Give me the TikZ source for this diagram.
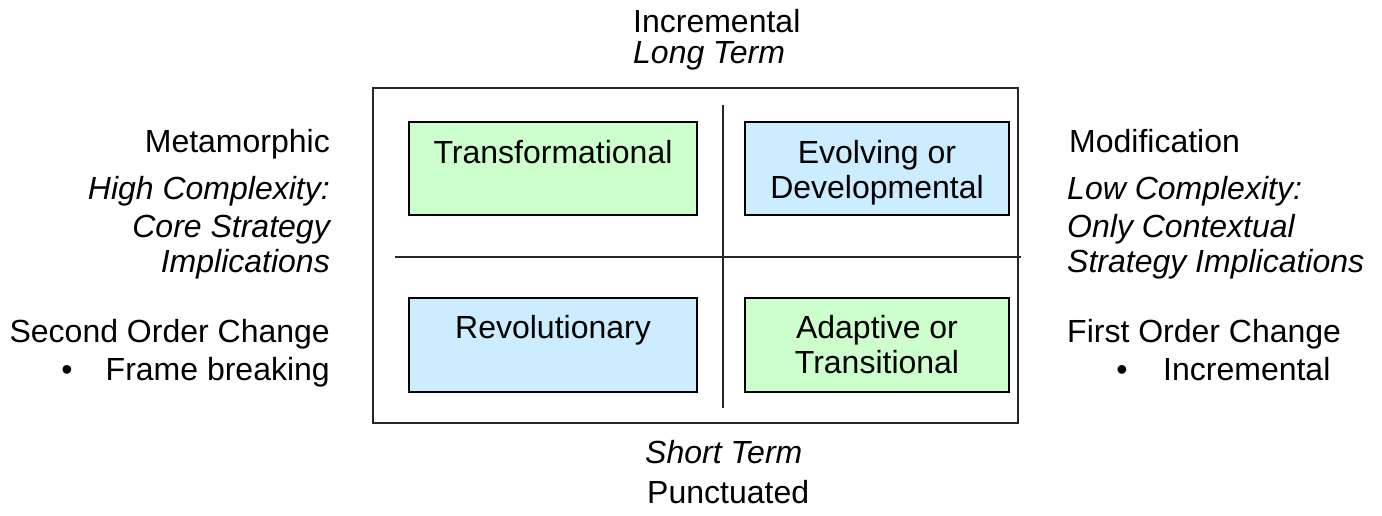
\documentclass[tikz,border=0pt]{standalone}
\usepackage{fontspec}
\setmainfont{Liberation Sans}
\definecolor{boxgreen}{HTML}{CCFFCC}
\definecolor{boxblue}{HTML}{CCECFF}
\begin{document}
\begin{tikzpicture}[x=1pt,y=-1pt,
  lbl/.style={inner sep=0pt, font=\fontsize{32}{37}\selectfont},
  ilbl/.style={lbl, font=\fontsize{32}{37}\selectfont\itshape},
  quad/.style={draw=black, line width=2.2pt, inner sep=0pt, minimum height=93pt},
  wide/.style={quad, minimum width=288pt},
  narrow/.style={quad, minimum width=264pt},
  divider/.style={draw=black!85, line width=1.6pt}]
\useasboundingbox (0,0) rectangle (1382,515);
% outer frame
\node[draw=black!85, line width=1.7pt, minimum width=645pt, minimum height=335pt, inner sep=0pt] (frame) at (695.5,255.5) {};
% dividers
\coordinate (vt) at (723,105);
\coordinate (vb) at (723,408);
\coordinate (hl) at (395,257);
\coordinate (hr) at (1021,257);
\draw[divider] (vt) -- (vb);
\draw[divider] (hl) -- (hr);
% quadrant boxes
\node[wide, fill=boxgreen] (tr) at (553,168.5) {};
\node[narrow, fill=boxblue] (ev) at (877,168.5) {};
\node[wide, fill=boxblue, minimum height=94pt] (rv) at (553,345) {};
\node[narrow, fill=boxgreen, minimum height=94pt] (ad) at (877,345) {};
\node[lbl, anchor=base] (trt) at (553,163) {Transformational};
\node[lbl, anchor=base] (evt1) at (877,163) {Evolving or};
\node[lbl, anchor=base] (evt2) at (877,198) {Developmental};
\node[lbl, anchor=base] (rvt) at (553,338) {Revolutionary};
\node[lbl, anchor=base] (adt1) at (877,338) {Adaptive or};
\node[lbl, anchor=base] (adt2) at (877,373) {Transitional};
% top and bottom
\node[lbl, anchor=base west] (inc) at (633,32) {Incremental};
\node[ilbl, anchor=base west] (lt) at (633,63) {Long Term};
\node[ilbl, anchor=base west] (st) at (645,463) {Short Term};
\node[lbl, anchor=base west] (pu) at (647,503) {Punctuated};
% left side
\node[lbl, anchor=base east] (meta) at (330,152) {Metamorphic};
\node[ilbl, anchor=base east] (hc1) at (330,199) {High Complexity:};
\node[ilbl, anchor=base east] (hc2) at (330,237) {Core Strategy};
\node[ilbl, anchor=base east] (hc3) at (330,272) {Implications};
\node[lbl, anchor=base east] (soc) at (330,342) {Second Order Change};
\node[lbl, anchor=base] (lb) at (67,380) {\textbullet};
\node[lbl, anchor=base east] (fb) at (330,380) {Frame breaking};
% right side
\node[lbl, anchor=base west] (mod) at (1069,152) {Modification};
\node[ilbl, anchor=base west] (lc1) at (1067,199) {Low Complexity:};
\node[ilbl, anchor=base west] (lc2) at (1067,237) {Only Contextual};
\node[ilbl, anchor=base west] (lc3) at (1067,272) {Strategy Implications};
\node[lbl, anchor=base west] (foc) at (1067,342) {First Order Change};
\node[lbl, anchor=base] (rb) at (1122,380) {\textbullet};
\node[lbl, anchor=base west] (incr) at (1163,380) {Incremental};
\end{tikzpicture}
\end{document}
